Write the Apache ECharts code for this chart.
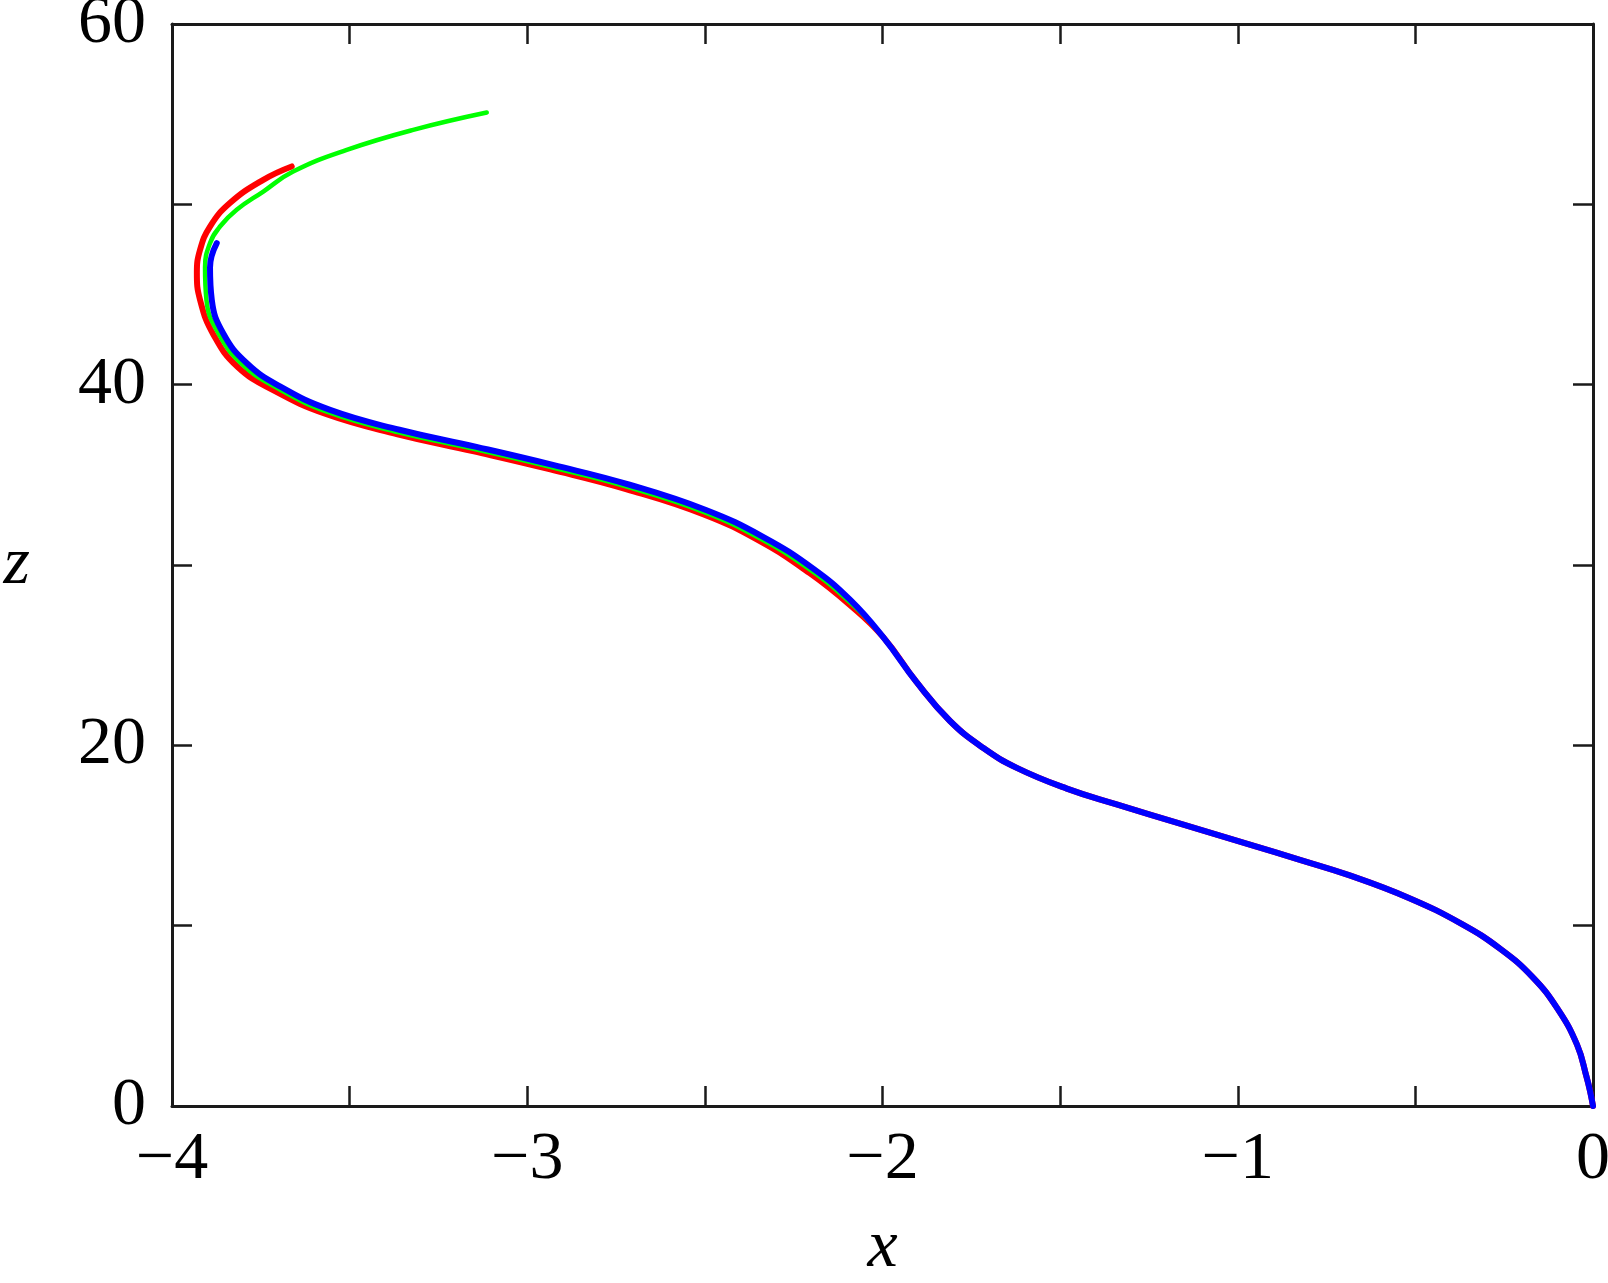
<!DOCTYPE html>
<html>
<head>
<meta charset="utf-8">
<script src="https://cdn.jsdelivr.net/npm/echarts@6/dist/echarts.min.js"></script>
<style>
html, body { margin: 0; padding: 0; background: #fff; }
#container { width: 1608px; height: 1283px; }
</style>
</head>
<body>
<div id="container"></div>
<script>
// shared lower part of the curve (all three runs coincide here)
let commonPart = [
    [0, 0], [-0.008, 0.8], [-0.018, 1.6], [-0.045, 3.4], [-0.1, 5.4], [-0.17, 7.15],
    [-0.26, 8.7], [-0.37, 10.1], [-0.52, 11.55], [-0.687, 12.8], [-0.825, 13.65],
    [-0.966, 14.5], [-1.153, 15.6], [-1.341, 16.72], [-1.481, 17.6], [-1.622, 18.75],
    [-1.716, 19.85], [-1.81, 21.35], [-1.904, 23.5], [-1.998, 26.0]
];
let blueTail = [
    [-2.09, 28.05], [-2.195, 29.8], [-2.335, 31.55], [-2.497, 33.05], [-2.712, 34.45],
    [-2.928, 35.55], [-3.143, 36.55], [-3.36, 37.5], [-3.555, 38.6], [-3.696, 39.9],
    [-3.79, 41.2], [-3.856, 42.85], [-3.888, 44.7], [-3.893, 46.5], [-3.874, 47.85]
];
let greenTail = [
    [-2.093, 27.95], [-2.2, 29.68], [-2.34, 31.42], [-2.5, 32.92], [-2.715, 34.32],
    [-2.93, 35.42], [-3.145, 36.42], [-3.362, 37.36], [-3.56, 38.47], [-3.70, 39.77],
    [-3.80, 41.08], [-3.868, 42.8], [-3.903, 44.7], [-3.907, 46.5], [-3.893, 47.85],
    [-3.865, 48.77], [-3.818, 49.7], [-3.743, 50.71], [-3.659, 51.82], [-3.508, 53.02],
    [-3.321, 54.13], [-3.114, 55.09]
];
let redTail = [
    [-2.096, 27.85], [-2.205, 29.55], [-2.345, 31.32], [-2.505, 32.82], [-2.72, 34.2],
    [-2.935, 35.3], [-3.15, 36.3], [-3.365, 37.25], [-3.565, 38.36], [-3.71, 39.64],
    [-3.815, 40.98], [-3.884, 42.8], [-3.921, 44.7], [-3.93, 46.2], [-3.921, 47.48],
    [-3.893, 48.77], [-3.837, 50.07], [-3.743, 51.36], [-3.663, 52.1]
];

let blueData = commonPart.concat(blueTail);
let greenData = commonPart.concat(greenTail);
let redData = commonPart.concat(redTail);

let dom = document.getElementById("container");
let myChart = echarts.init(dom);

let axisColor = '#1a1a1a';
let serif = '"Liberation Serif", serif';

function xLabel(v) {
    if (Math.abs(v % 1) > 1e-9) return '';
    return v < 0 ? '\u2212' + Math.abs(v) : String(v);
}
function yLabel(v) {
    return v % 20 === 0 ? String(v) : '';
}

let tickStyle = { show: true, inside: true, length: 20, lineStyle: { color: axisColor, width: 2.5 } };
let lineStyle = { show: true, onZero: false, lineStyle: { color: axisColor, width: 3 } };

option = {
    backgroundColor: '#fff',
    animation: false,
    grid: { left: 172, right: 15, top: 24, bottom: 177, outerBoundsMode: 'none' },
    xAxis: [
        {
            type: 'value', min: -4, max: 0, interval: 0.5, position: 'bottom',
            axisLine: lineStyle, axisTick: tickStyle, splitLine: { show: false },
            axisLabel: { formatter: xLabel, color: '#000', fontFamily: serif, fontSize: 68, margin: 20 },
            name: 'x', nameLocation: 'middle', nameGap: 108,
            nameTextStyle: { color: '#000', fontFamily: serif, fontSize: 68, fontStyle: 'italic' }
        },
        {
            type: 'value', min: -4, max: 0, interval: 0.5, position: 'top',
            axisLine: lineStyle, axisTick: tickStyle, splitLine: { show: false },
            axisLabel: { show: false }
        }
    ],
    yAxis: [
        {
            type: 'value', min: 0, max: 60, interval: 10, position: 'left',
            axisLine: lineStyle, axisTick: tickStyle, splitLine: { show: false },
            axisLabel: { formatter: yLabel, color: '#000', fontFamily: serif, fontSize: 68, margin: 26 },
            name: 'z', nameLocation: 'middle', nameGap: 142, nameRotate: 0,
            nameTextStyle: { color: '#000', fontFamily: serif, fontSize: 68, fontStyle: 'italic', padding: [20, 0, 0, 0] }
        },
        {
            type: 'value', min: 0, max: 60, interval: 10, position: 'right',
            axisLine: lineStyle, axisTick: tickStyle, splitLine: { show: false },
            axisLabel: { show: false }
        }
    ],
    series: [
        {
            name: 'red', type: 'line', data: redData, smooth: 0.45, showSymbol: false,
            lineStyle: { color: '#ff0000', width: 6, join: 'round', cap: 'round' }, z: 2
        },
        {
            name: 'green', type: 'line', data: greenData, smooth: 0.45, showSymbol: false,
            lineStyle: { color: '#00ff00', width: 4.5, join: 'round', cap: 'round' }, z: 3
        },
        {
            name: 'blue', type: 'line', data: blueData, smooth: 0.45, showSymbol: false,
            lineStyle: { color: '#0000ff', width: 6, join: 'round', cap: 'round' }, z: 4
        }
    ]
};
if (option && typeof option === "object")
{
    myChart.setOption(option, true);
}
</script>
</body>
</html>
